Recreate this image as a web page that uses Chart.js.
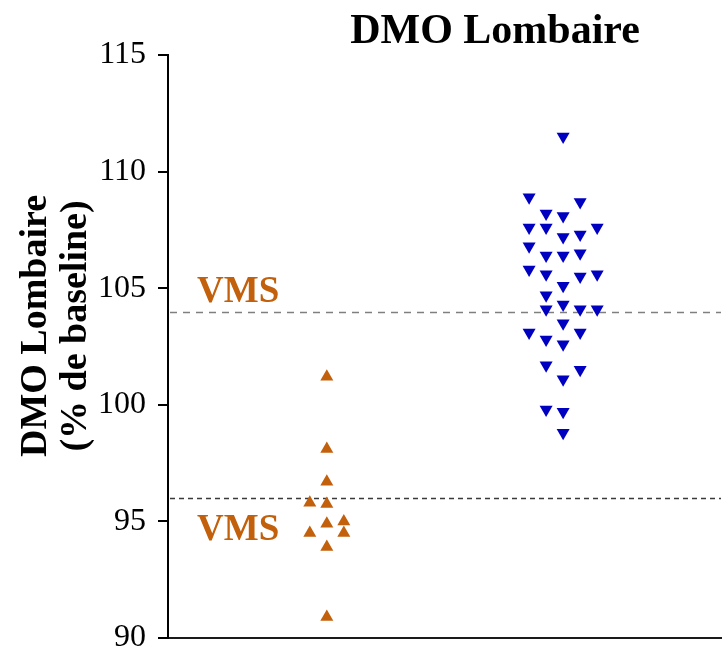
<!DOCTYPE html>
<html>
<head>
<meta charset="utf-8">
<script src="https://cdn.jsdelivr.net/npm/chart.js@4/dist/chart.umd.min.js"></script>
<style>
  html, body { margin: 0; padding: 0; background: #ffffff; }
  canvas { display: block; }
</style>
</head>
<body>
<canvas id="c" width="724" height="661"></canvas>
<script>
// ---- Data -------------------------------------------------------------
const chartTitle = 'DMO Lombaire';
const yTitleLines = ['DMO Lombaire', '(% de baseline)'];
const yTicks = [90, 95, 100, 105, 110, 115];

// Reference thresholds (VMS) drawn as dashed horizontal lines
const vmsUpper = 104;
const vmsLower = 96;
const vmsLabel = 'VMS';

// Group 1 (orange, upward triangles): values and jitter slot per point
const groupAValues = [101.2, 98.1, 96.7, 95.8, 95.75, 94.9, 95.0, 94.5, 94.5, 93.9, 90.9];
const groupASlots  = [0, 0, 0, -1, 0, 0, 1, -1, 1, 0, 0];

// Group 2 (blue, downward triangles): values and jitter slot per point
const groupBValues = [111.5, 108.9, 108.7, 108.2, 108.1, 107.6, 107.6, 107.6, 107.2, 107.3,
                      106.8, 106.4, 106.4, 106.5, 105.8, 105.6, 105.6, 105.5, 105.1, 104.7,
                      104.3, 104.1, 104.1, 104.1, 103.5, 103.1, 103.1, 102.8, 102.6, 101.7,
                      101.5, 101.1, 99.8, 99.7, 98.8];
const groupBSlots  = [0, -2, 1, -1, 0, -2, -1, 2, 0, 1,
                      -2, -1, 0, 1, -2, -1, 2, 1, 0, -1,
                      0, -1, 1, 2, 0, -2, 1, -1, 0, -1,
                      1, 0, -1, 0, 0];

// ---- Styling -----------------------------------------------------------
const SERIF = "'Liberation Serif', 'Times New Roman', Times, serif";
const ORANGE = '#C2600C';
const BLUE = '#0000C0';
const SLOT_STEP = 0.072;   // horizontal spread between jittered columns

function toPoints(center, values, slots) {
  return values.map((v, i) => ({ x: center + slots[i] * SLOT_STEP, y: v }));
}

const decorations = {
  id: 'decorations',
  beforeDatasetsDraw(chart) {
    const { ctx, chartArea: a, scales: { y } } = chart;
    const lines = [
      { v: vmsUpper, color: '#7f7f7f', dash: [7, 6] },
      { v: vmsLower, color: '#3a3a3a', dash: [5, 4] }
    ];
    ctx.save();
    ctx.lineWidth = 1.4;
    lines.forEach(l => {
      const py = Math.round(y.getPixelForValue(l.v)) + 0.5;
      ctx.strokeStyle = l.color;
      ctx.setLineDash(l.dash);
      ctx.beginPath();
      ctx.moveTo(a.left + 2, py);
      ctx.lineTo(a.right, py);
      ctx.stroke();
    });
    ctx.restore();
  },
  afterDraw(chart) {
    const { ctx, chartArea: a, scales: { y } } = chart;
    ctx.save();
    // Title
    ctx.fillStyle = '#000';
    ctx.font = `bold 42px ${SERIF}`;
    ctx.textAlign = 'center';
    ctx.textBaseline = 'alphabetic';
    ctx.fillText(chartTitle, a.left + 327, 43);

    // Rotated y-axis title (two lines)
    ctx.font = `bold 38px ${SERIF}`;
    const cy = 326;
    [46, 86].forEach((bx, i) => {
      ctx.save();
      ctx.translate(bx, cy);
      ctx.rotate(-Math.PI / 2);
      ctx.fillText(yTitleLines[i], 0, 0);
      ctx.restore();
    });

    // VMS annotations next to the threshold lines
    ctx.fillStyle = ORANGE;
    ctx.font = `bold 37px ${SERIF}`;
    ctx.textAlign = 'left';
    ctx.fillText(vmsLabel, a.left + 29, y.getPixelForValue(vmsUpper) - 10);
    ctx.fillText(vmsLabel, a.left + 29, y.getPixelForValue(vmsLower) + 42);
    ctx.restore();
  }
};

new Chart(document.getElementById('c'), {
  type: 'scatter',
  data: {
    datasets: [
      {
        data: toPoints(1, groupAValues, groupASlots),
        pointStyle: 'triangle',
        rotation: 0,
        pointRadius: 7.5,
        backgroundColor: ORANGE,
        borderColor: ORANGE,
        borderWidth: 0,
        clip: false
      },
      {
        data: toPoints(2, groupBValues, groupBSlots),
        pointStyle: 'triangle',
        rotation: 180,
        pointRadius: 7.5,
        backgroundColor: BLUE,
        borderColor: BLUE,
        borderWidth: 0,
        clip: false
      }
    ]
  },
  options: {
    responsive: false,
    devicePixelRatio: 1,
    animation: false,
    layout: { autoPadding: false, padding: { left: 0, top: 55, right: 3, bottom: 23 } },
    plugins: {
      legend: { display: false },
      tooltip: { enabled: false },
      title: { display: false }
    },
    scales: {
      x: {
        type: 'linear',
        min: 0.328,
        max: 2.668,
        ticks: { display: false },
        grid: { display: false, drawTicks: false },
        border: { display: true, color: '#1a1a1a', width: 2 },
        afterFit(scale) { scale.height = 0; scale.paddingLeft = 0; scale.paddingRight = 0; }
      },
      y: {
        type: 'linear',
        min: yTicks[0],
        max: yTicks[yTicks.length - 1],
        afterBuildTicks(scale) { scale.ticks = yTicks.map(v => ({ value: v })); },
        afterFit(scale) { scale.width = 168; scale.paddingTop = 0; scale.paddingBottom = 0; },
        ticks: {
          color: '#000',
          padding: 12,
          font: { family: SERIF, size: 32 }
        },
        grid: {
          display: true,
          drawOnChartArea: false,
          drawTicks: true,
          tickLength: 10,
          color: '#000',
          lineWidth: 2
        },
        border: { display: true, color: '#000', width: 2 }
      }
    }
  },
  plugins: [decorations]
});
</script>
</body>
</html>
